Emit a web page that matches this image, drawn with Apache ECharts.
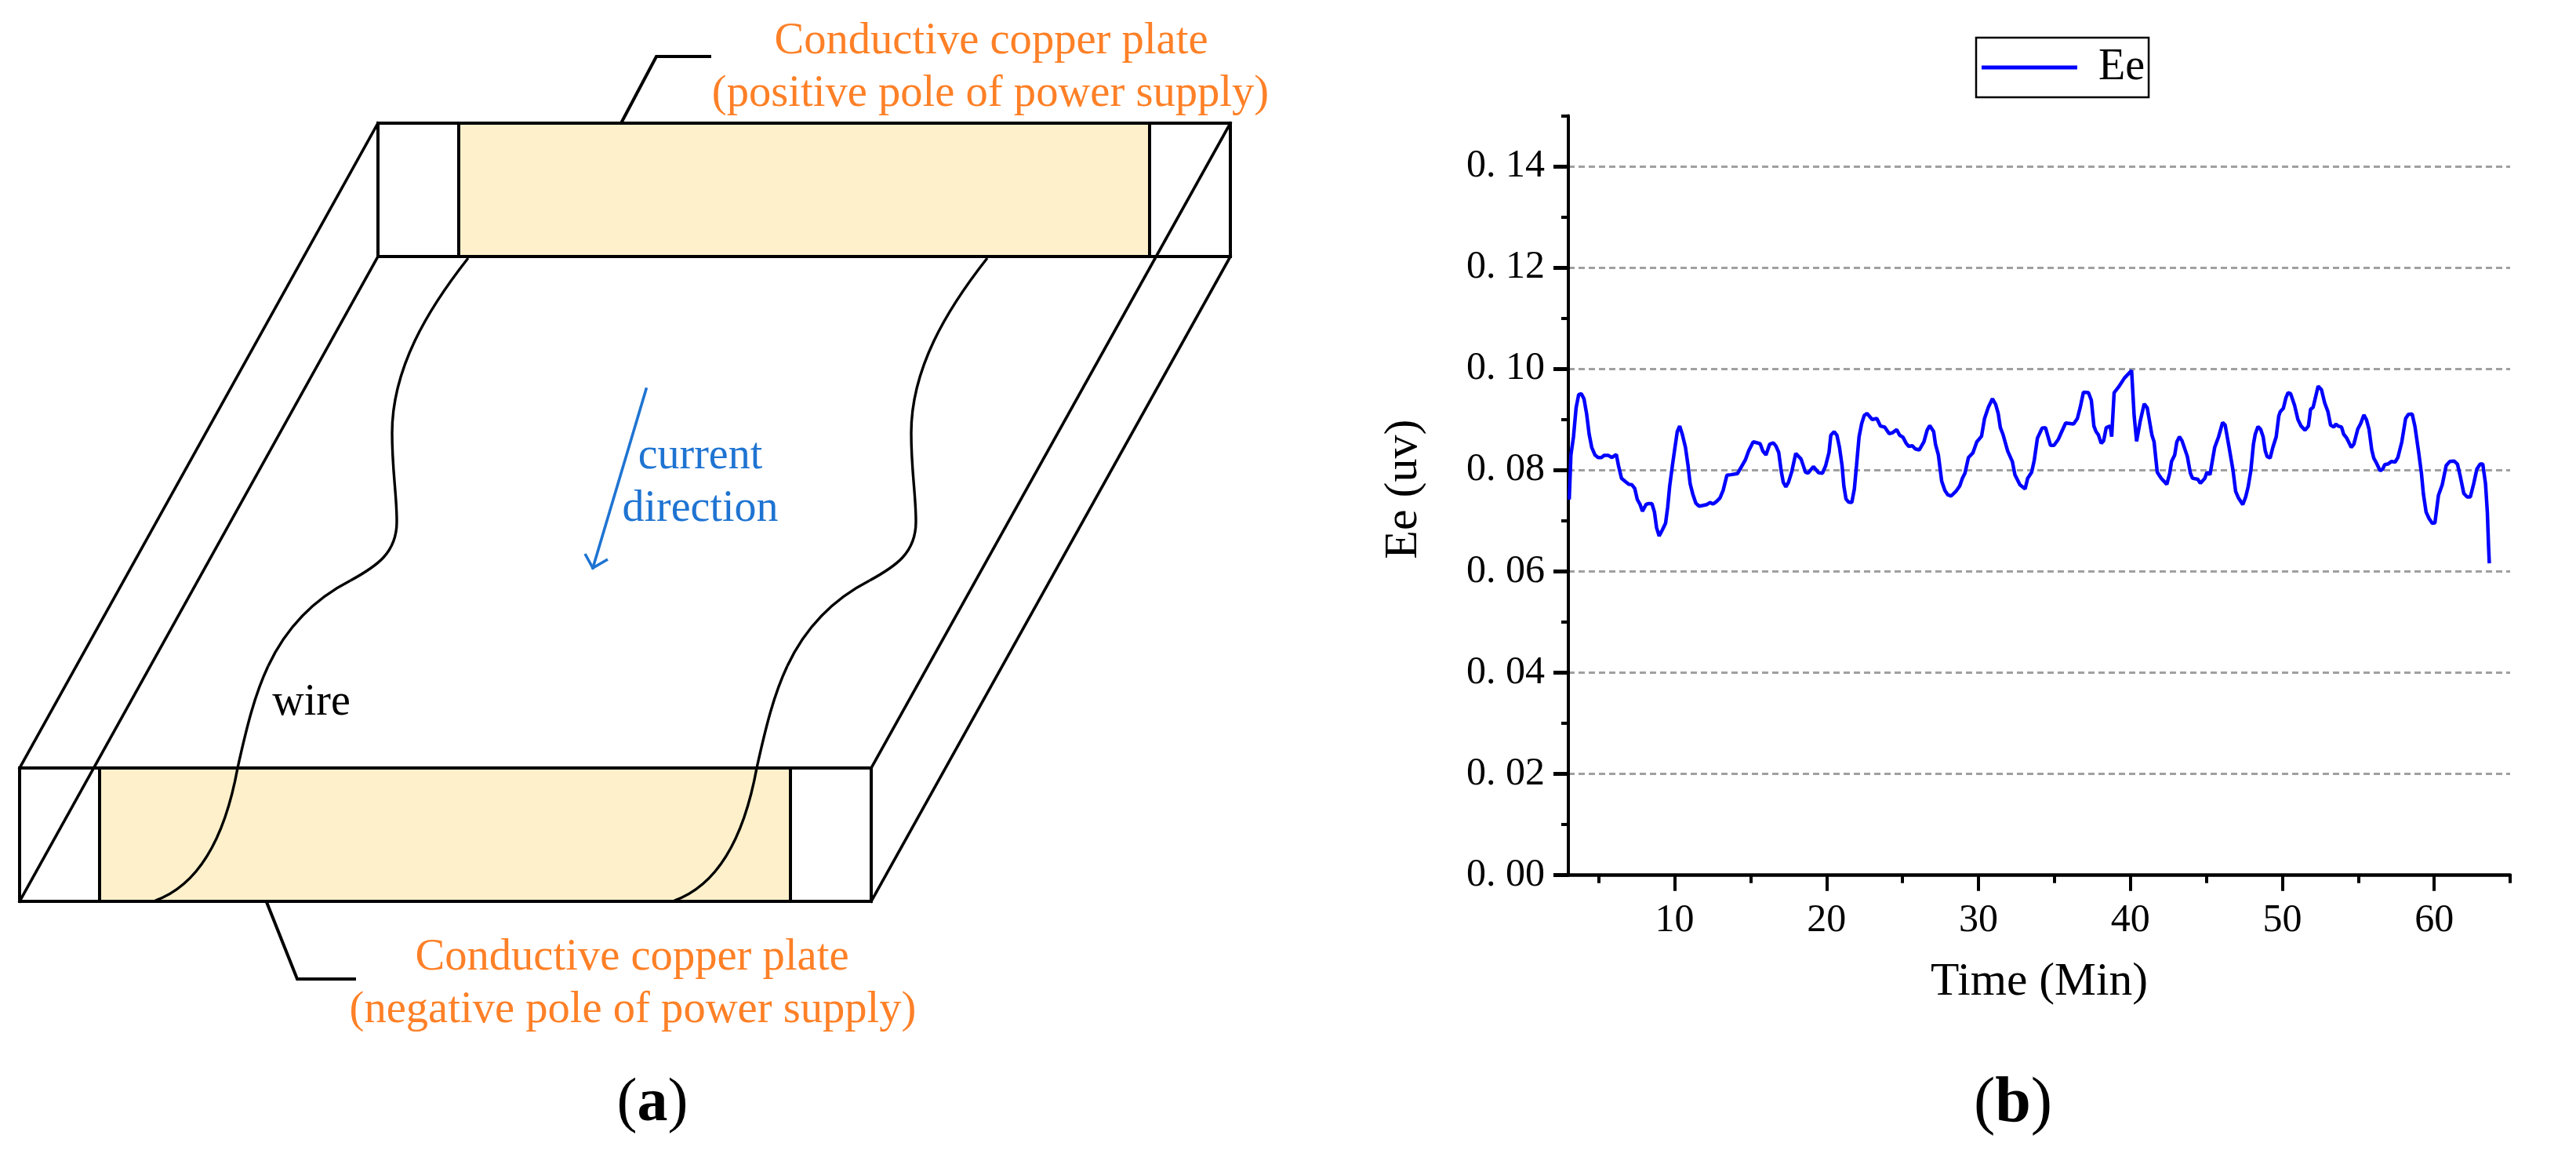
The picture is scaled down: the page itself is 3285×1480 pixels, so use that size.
<!DOCTYPE html>
<html>
<head>
<meta charset="utf-8">
<style>html,body{margin:0;padding:0;background:#fff}#main{width:3285px;height:1480px}</style>
<script src="https://cdn.jsdelivr.net/npm/echarts@6/dist/echarts.min.js"></script>
</head>
<body>
<div id="main"></div>
<script>
var seriesName = 'Ee';
var xName = 'Time (Min)';
var yName = 'Ee (uv)';
var xTicks = [10, 20, 30, 40, 50, 60];
var xTickLabels = ['10', '20', '30', '40', '50', '60'];
var xMinorTicks = [5, 15, 25, 35, 45, 55, 65];
var yTicks = [0, 0.02, 0.04, 0.06, 0.08, 0.10, 0.12, 0.14];
var yTickLabels = ['0. 00', '0. 02', '0. 04', '0. 06', '0. 08', '0. 10', '0. 12', '0. 14'];
var yMinorTicks = [0.01, 0.03, 0.05, 0.07, 0.09, 0.11, 0.13, 0.15];

var times = [
    3.06, 3.17, 3.34, 3.51, 3.68, 3.85, 4.03, 4.20, 4.37, 4.54, 4.75, 4.96, 5.18, 5.35, 5.64, 5.87, 6.16, 6.30, 6.50, 6.78,
    6.99, 7.19, 7.37, 7.54, 7.71, 7.88, 8.11, 8.28, 8.50, 8.67, 8.81, 8.98, 9.19, 9.40, 9.54, 9.67, 9.85, 10.02, 10.17, 10.33,
    10.50, 10.71, 10.88, 11.02, 11.19, 11.39, 11.60, 11.81, 12.12, 12.33, 12.53, 12.75, 12.98, 13.19, 13.44, 13.70, 14.13, 14.36, 14.65, 14.87,
    15.17, 15.42, 15.63, 15.80, 16.01, 16.25, 16.49, 16.66, 16.85, 17.01, 17.15, 17.32, 17.49, 17.70, 17.97, 18.32, 18.61, 18.78, 19.13, 19.47,
    19.73, 19.94, 20.16, 20.28, 20.50, 20.68, 20.85, 21.02, 21.14, 21.28, 21.45, 21.66, 21.83, 21.97, 22.14, 22.31, 22.48, 22.66, 22.86, 23.00,
    23.31, 23.55, 23.83, 24.12, 24.34, 24.62, 24.81, 25.03, 25.24, 25.41, 25.65, 25.84, 26.10, 26.41, 26.62, 26.79, 26.87, 27.05, 27.17, 27.36,
    27.58, 27.79, 27.99, 28.20, 28.51, 28.77, 28.94, 29.11, 29.34, 29.63, 29.89, 30.20, 30.40, 30.66, 30.92, 31.13, 31.30, 31.44, 31.61, 31.92,
    32.23, 32.40, 32.73, 33.07, 33.24, 33.50, 33.67, 33.88, 34.19, 34.41, 34.74, 34.97, 35.26, 35.48, 35.74, 36.26, 36.51, 36.69, 36.91, 37.24,
    37.43, 37.60, 37.74, 37.89, 38.08, 38.24, 38.41, 38.67, 38.77, 38.93, 39.22, 39.61, 40.08, 40.25, 40.41, 40.65, 40.91, 41.11, 41.42, 41.56,
    41.77, 42.03, 42.40, 42.59, 42.71, 42.92, 43.06, 43.23, 43.40, 43.75, 43.95, 44.09, 44.44, 44.61, 44.90, 45.04, 45.24, 45.55, 45.81, 46.07,
    46.24, 46.50, 46.76, 46.93, 47.10, 47.40, 47.59, 47.76, 47.93, 48.10, 48.22, 48.40, 48.57, 48.74, 48.88, 49.00, 49.20, 49.38, 49.60, 49.77,
    49.86, 50.07, 50.24, 50.38, 50.55, 50.81, 51.03, 51.24, 51.50, 51.72, 51.86, 52.03, 52.18, 52.36, 52.58, 52.79, 53.01, 53.18, 53.39, 53.53,
    53.68, 53.90, 54.04, 54.25, 54.54, 54.71, 54.97, 55.16, 55.37, 55.54, 55.71, 55.89, 56.02, 56.20, 56.44, 56.61, 56.75, 56.95, 57.18, 57.43,
    57.61, 57.87, 58.12, 58.30, 58.55, 58.73, 58.98, 59.16, 59.29, 59.47, 59.67, 59.88, 60.05, 60.28, 60.53, 60.79, 61.02, 61.31, 61.53, 61.71,
    61.95, 62.17, 62.38, 62.60, 62.81, 63.03, 63.20, 63.38, 63.50, 63.58, 63.63
];
var ee = [
    .0742, .0830, .0866, .0923, .0949, .0951, .0941, .0912, .0871, .0845, .0830, .0825, .0825, .0829, .0829, .0825, .0831, .0809, .0784, .0777,
    .0772, .0771, .0764, .0742, .0733, .0719, .0732, .0734, .0734, .0717, .0686, .0670, .0682, .0695, .0727, .0768, .0809, .0845, .0876, .0887,
    .0871, .0845, .0809, .0773, .0753, .0735, .0729, .0730, .0732, .0736, .0733, .0738, .0745, .0760, .0790, .0791, .0793, .0805, .0820, .0838,
    .0856, .0854, .0852, .0838, .0830, .0851, .0854, .0848, .0835, .0799, .0776, .0767, .0776, .0796, .0833, .0822, .0796, .0794, .0807, .0795,
    .0794, .0809, .0835, .0869, .0876, .0869, .0845, .0809, .0768, .0743, .0737, .0736, .0763, .0809, .0866, .0892, .0908, .0912, .0905, .0900,
    .0902, .0887, .0885, .0872, .0874, .0880, .0869, .0865, .0853, .0847, .0848, .0842, .0840, .0856, .0879, .0888, .0887, .0876, .0851, .0830,
    .0778, .0760, .0751, .0749, .0758, .0769, .0784, .0794, .0825, .0834, .0856, .0867, .0902, .0925, .0941, .0930, .0912, .0884, .0871, .0838,
    .0817, .0791, .0771, .0763, .0784, .0796, .0819, .0863, .0883, .0884, .0849, .0849, .0861, .0876, .0893, .0891, .0902, .0923, .0954, .0953,
    .0938, .0887, .0876, .0870, .0853, .0858, .0884, .0887, .0866, .0953, .0964, .0982, .0997, .0907, .0857, .0897, .0931, .0923, .0869, .0856,
    .0796, .0784, .0772, .0794, .0817, .0830, .0856, .0866, .0858, .0827, .0794, .0784, .0782, .0774, .0784, .0796, .0791, .0845, .0866, .0894,
    .0889, .0845, .0799, .0758, .0746, .0732, .0747, .0768, .0799, .0851, .0871, .0886, .0881, .0866, .0838, .0827, .0824, .0845, .0866, .0907,
    .0915, .0922, .0943, .0953, .0951, .0928, .0900, .0887, .0879, .0887, .0920, .0924, .0943, .0966, .0959, .0933, .0915, .0889, .0885, .0891,
    .0887, .0885, .0871, .0863, .0845, .0851, .0881, .0892, .0909, .0900, .0881, .0840, .0824, .0814, .0799, .0802, .0811, .0812, .0817, .0816,
    .0825, .0856, .0902, .0910, .0911, .0887, .0835, .0794, .0753, .0717, .0704, .0695, .0696, .0750, .0771, .0809, .0817, .0818, .0812, .0789,
    .0754, .0747, .0747, .0773, .0802, .0812, .0812, .0773, .0717, .0650, .0616
];

// left wire of panel (a) as bezier pieces: start, control, control, end
var wirePieces = [
    [597, 329, 545, 395, 500, 470, 500, 552],
    [500, 552, 500, 600, 506, 630, 506, 665],
    [506, 665, 506, 705, 480, 722, 447, 740],
    [447, 740, 400, 764, 365, 800, 342, 849],
    [342, 849, 325, 885, 315, 925, 303, 979],
    [303, 979, 290, 1050, 262, 1125, 198, 1148]
];
var wireShift = 662;

var fontName = '"Liberation Serif"';
var orange = '#fe8027';
var blue = '#1f74d2';

function seg(x1, y1, x2, y2, w, color) {
    return { type: 'line', shape: { x1: x1, y1: y1, x2: x2, y2: y2 }, style: { stroke: color || '#000', lineWidth: w || 3.6, lineCap: 'square' } };
}
function poly(points, w, color) {
    return { type: 'polyline', shape: { points: points }, style: { stroke: color || '#000', lineWidth: w || 3.6, fill: null } };
}
function curve(p, dx) {
    return {
        type: 'bezierCurve',
        shape: { x1: p[0] + dx, y1: p[1], cpx1: p[2] + dx, cpy1: p[3], cpx2: p[4] + dx, cpy2: p[5], x2: p[6] + dx, y2: p[7] },
        style: { stroke: '#000', lineWidth: 3.4, fill: null }
    };
}
function label(str, cx, y, size, color) {
    return { type: 'text', x: cx, y: y, style: { text: str, fill: color, font: size + 'px ' + fontName, align: 'center', verticalAlign: 'middle' } };
}
function tag(letter, cx, y, size) {
    return {
        type: 'text', x: cx, y: y,
        style: {
            text: '{p|(}{b|' + letter + '}{p|)}', align: 'center', verticalAlign: 'middle',
            rich: {
                p: { font: size + 'px ' + fontName, fill: '#000' },
                b: { font: 'bold ' + size + 'px ' + fontName, fill: '#000' }
            }
        }
    };
}

var sketch = [
    { type: 'rect', shape: { x: 585, y: 157, width: 881, height: 170 }, style: { fill: '#fdf0ca' } },
    { type: 'rect', shape: { x: 127, y: 979, width: 881, height: 170 }, style: { fill: '#fdf0ca' } }
];
wirePieces.forEach(function (p) {
    sketch.push(curve(p, 0), curve(p, wireShift));
});
sketch = sketch.concat([
    seg(482, 157, 25, 979), seg(482, 327, 25, 1149),
    seg(1569, 157, 1111, 979), seg(1569, 327, 1111, 1149),
    seg(482, 157, 1569, 157, 4), seg(482, 327, 1569, 327, 4), seg(482, 157, 482, 327, 4), seg(1569, 157, 1569, 327, 4),
    seg(585, 157, 585, 327, 4), seg(1466, 157, 1466, 327, 4),
    seg(25, 979, 1111, 979, 4), seg(25, 1149, 1111, 1149, 4), seg(25, 979, 25, 1149, 4), seg(1111, 979, 1111, 1149, 4),
    seg(127, 979, 127, 1149, 4), seg(1008, 979, 1008, 1149, 4),
    poly([[792, 157], [837, 72], [907, 72]], 4),
    poly([[340, 1150], [379, 1248], [454, 1248]], 4),
    seg(824, 496, 756, 724, 3.6, blue),
    poly([[746, 706], [756, 724], [775, 713]], 3.6, blue),
    label('Conductive copper plate', 1264, 53, 56.6, orange),
    label('(positive pole of power supply)', 1263, 120, 56.6, orange),
    label('Conductive copper plate', 806, 1221, 56.6, orange),
    label('(negative pole of power supply)', 807, 1288, 56.6, orange),
    label('current', 893, 582, 56, blue),
    label('direction', 893, 649, 56, blue),
    label('wire', 397, 896, 56, '#000'),
    tag('a', 832, 1408, 78),
    tag('b', 2567, 1408, 82)
]);

var myChart = echarts.init(document.getElementById('main'));

var option = {
    animation: false,
    backgroundColor: '#fff',
    textStyle: { fontFamily: fontName },
    grid: { left: 2000, top: 147.5, width: 1201, height: 968.2, containLabel: false },
    legend: {
        left: 2520, top: 48,
        padding: [10, 5, 10, 7],
        borderColor: '#000', borderWidth: 2.5,
        icon: 'rect',
        itemWidth: 122, itemHeight: 5, itemGap: 0,
        itemStyle: { color: '#0000ff' },
        textStyle: { fontFamily: fontName, fontSize: 56, color: '#000', padding: [0, 0, 0, 22] },
        data: [seriesName]
    },
    xAxis: [{
        type: 'value', position: 'bottom', min: 3, max: 65,
        name: xName, nameLocation: 'middle', nameGap: 107,
        nameTextStyle: { fontFamily: fontName, fontSize: 59.5, color: '#000' },
        axisLine: { onZero: false, lineStyle: { color: '#000', width: 4.5 } },
        axisTick: { customValues: xTicks, length: 20, lineStyle: { color: '#000', width: 4 } },
        axisLabel: {
            customValues: xTicks, margin: 33, fontFamily: fontName, fontSize: 50, color: '#000',
            formatter: function (v) { return xTickLabels[xTicks.indexOf(v)]; }
        },
        splitLine: { show: false }
    }, {
        type: 'value', position: 'bottom', min: 3, max: 65,
        axisLine: { show: false, onZero: false },
        axisTick: { customValues: xMinorTicks, length: 10, lineStyle: { color: '#000', width: 4 } },
        axisLabel: { show: false },
        splitLine: { show: false }
    }],
    yAxis: [{
        type: 'value', position: 'left', min: 0, max: 0.15, interval: 0.02,
        name: yName, nameLocation: 'middle', nameGap: 180, nameRotate: 90,
        nameTextStyle: { fontFamily: fontName, fontSize: 60, color: '#000', padding: [0, 0, 0, 16] },
        axisLine: { show: true, onZero: false, lineStyle: { color: '#000', width: 4 } },
        axisTick: { show: true, customValues: yTicks, length: 19, lineStyle: { color: '#000', width: 5 } },
        axisLabel: {
            customValues: yTicks, margin: 30, fontFamily: fontName, fontSize: 50, color: '#000',
            formatter: function (v) { return yTickLabels[yTicks.indexOf(v)]; }
        },
        splitLine: { show: true, showMinLine: false, showMaxLine: true, lineStyle: { color: '#a0a0a0', width: 3, type: [8, 5] } }
    }, {
        type: 'value', position: 'left', min: 0, max: 0.15,
        axisLine: { show: false, onZero: false },
        axisTick: { show: true, customValues: yMinorTicks, length: 9, lineStyle: { color: '#000', width: 4 } },
        axisLabel: { show: false },
        splitLine: { show: false }
    }],
    series: [{
        name: seriesName,
        type: 'line',
        xAxisIndex: 0,
        yAxisIndex: 0,
        symbol: 'none',
        lineStyle: { color: '#0000ff', width: 4.5 },
        itemStyle: { color: '#0000ff' },
        data: times.map(function (t, i) { return [t, ee[i]]; })
    }],
    graphic: { elements: sketch }
};

myChart.setOption(option);
</script>
</body>
</html>
